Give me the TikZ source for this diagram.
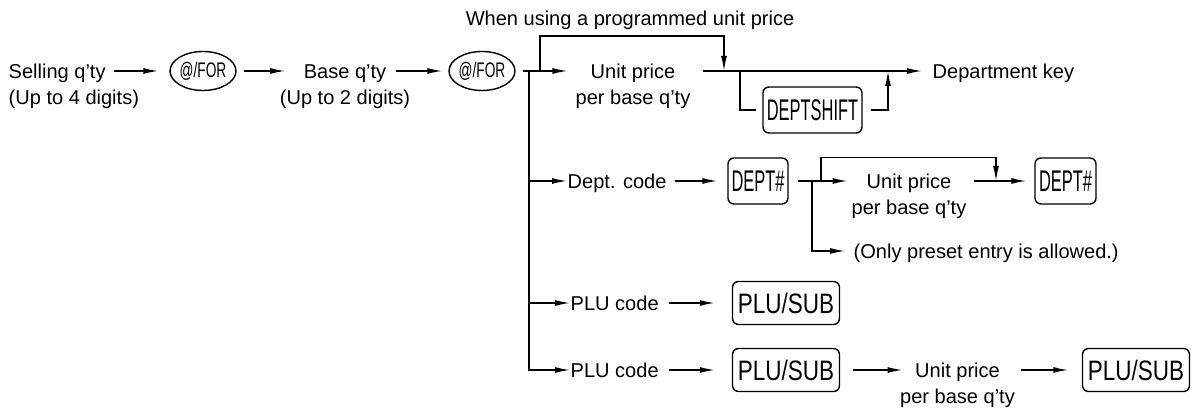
\documentclass[tikz,border=0pt]{standalone}
\usepackage{fontspec}
\setmainfont{Liberation Sans}
\usetikzlibrary{arrows.meta,shapes.geometric,positioning}
\tikzset{>={Latex[length=3mm,width=1.2mm]}}
\tikzset{
  txt/.style = {inner sep=0pt, font=\fontsize{11.4}{14.2}\selectfont, text height=10.9pt, text depth=2.7pt},
  forkey/.style = {ellipse, draw, minimum width=1.1cm, minimum height=0.78cm, inner sep=0pt, font=\fontsize{12}{12}\selectfont},
  deptkey/.style = {draw, rounded corners=1.2mm, minimum height=0.92cm, inner sep=0pt, font=\fontsize{17}{17}\selectfont},
  plukey/.style = {draw, rounded corners=1.2mm, minimum width=2.14cm, minimum height=0.86cm, inner sep=0pt, font=\fontsize{16}{16}\selectfont}
}
\def\narrow#1#2{\scalebox{#1}[1]{#2}}

\begin{document}
\begin{tikzpicture}[line width=0.8pt]
  \useasboundingbox (0,0) rectangle (23.84,8.18);
  % quantities
  \node[txt,anchor=west] (sell) at (0.16,6.76) {Selling q'ty};
  \node[txt,below=0.02cm of sell.south west,anchor=north west] (sell2) {(Up to 4 digits)};
  \node[forkey] (for1) at (4.06,6.76) {\narrow{0.65}{@/FOR}};
  \node[txt] (base) at (6.90,6.76) {Base q'ty};
  \node[txt,below=0.02cm of base] (base2) {(Up to 2 digits)};
  \node[forkey] (for2) at (9.64,6.76) {\narrow{0.65}{@/FOR}};
  \draw[->,shorten <=0.16cm,shorten >=0.22cm] (sell) -- (for1);
  \draw[->,shorten <=0.14cm,shorten >=0.36cm] (for1) -- (base);
  \draw[->,shorten <=0.18cm,shorten >=0.12cm] (base) -- (for2);
  % department key
  \coordinate (spine) at (10.58,6.76);
  \coordinate (upturn) at (10.80,6.76);
  \coordinate (join) at (14.48,6.76);
  \coordinate (drop) at (14.80,6.76);
  \coordinate (rise) at (17.76,6.76);
  \node[txt] (prog) at (12.6,7.82) {When using a programmed unit price};
  \node[txt] (price) at (12.66,6.76) {Unit price};
  \node[txt,below=0.02cm of price] (price2) {per base q'ty};
  \node[txt,anchor=west] (dkey) at (18.64,6.76) {Department key};
  \node[deptkey,minimum width=1.98cm] (shift) at (16.25,5.98) {\narrow{0.55}{DEPTSHIFT}};
  \draw[->,shorten <=0.14cm,shorten >=0.45cm] (for2) -- (price);
  \draw[->] (upturn) -- ++(0,0.70) -| (join);
  \draw[->,shorten <=0.53cm,shorten >=0.2cm] (price) -- (dkey);
  \draw[shorten >=0.12cm] (drop) |- (shift);
  \draw[->,shorten <=0.16cm] (shift) -| (rise);
  % dept code
  \coordinate (dbranch) at (16.24,4.56);
  \coordinate (dup) at (16.42,4.56);
  \coordinate (djoin) at (19.92,4.56);
  \node[txt,anchor=west] (dcode) at (11.34,4.56) {Dept. code};
  \node[deptkey,minimum width=1.2cm] (dept1) at (15.16,4.56) {\narrow{0.55}{DEPT\#}};
  \node[txt] (uprice) at (18.18,4.56) {Unit price};
  \node[txt,below=0.02cm of uprice] (uprice2) {per base q'ty};
  \node[deptkey,minimum width=1.22cm] (dept2) at (21.31,4.56) {\narrow{0.55}{DEPT\#}};
  \node[txt,anchor=west] (only) at (17.06,3.16) {(Only preset entry is allowed.)};
  \draw[->] (spine |- dcode) -- (dcode);
  \draw[->,shorten <=0.16cm,shorten >=0.2cm] (dcode) -- (dept1);
  \draw[->,shorten <=0.18cm,shorten >=0.37cm] (dept1) -- (uprice);
  \draw[->,shorten <=0.44cm,shorten >=0.16cm] (uprice) -- (dept2);
  \draw[->] (dup) |- (dept2.north -| djoin) -- (djoin);
  \draw[->,shorten >=0.16cm] (dbranch) |- (only);
  % plu code
  \node[txt,anchor=west] (pcode1) at (11.40,2.12) {PLU code};
  \node[plukey] (plu1) at (15.72,2.12) {\narrow{0.8}{PLU/SUB}};
  \node[txt,anchor=west] (pcode2) at (11.40,0.78) {PLU code};
  \node[plukey] (plu2) at (15.72,0.78) {\narrow{0.8}{PLU/SUB}};
  \node[txt] (pprice) at (19.15,0.78) {Unit price};
  \node[txt,below=0.02cm of pprice] (pprice2) {per base q'ty};
  \node[plukey] (plu3) at (22.72,0.78) {\narrow{0.8}{PLU/SUB}};
  \draw[->] (spine |- pcode1) -- (pcode1);
  \draw[->,shorten <=0.2cm,shorten >=0.34cm] (pcode1) -- (plu1);
  \draw[->] (spine) |- (pcode2);
  \draw[->,shorten <=0.2cm,shorten >=0.34cm] (pcode2) -- (plu2);
  \draw[->,shorten <=0.25cm,shorten >=0.24cm] (plu2) -- (pprice);
  \draw[->,shorten <=0.4cm,shorten >=0.27cm] (pprice) -- (plu3);
\end{tikzpicture}
\end{document}
